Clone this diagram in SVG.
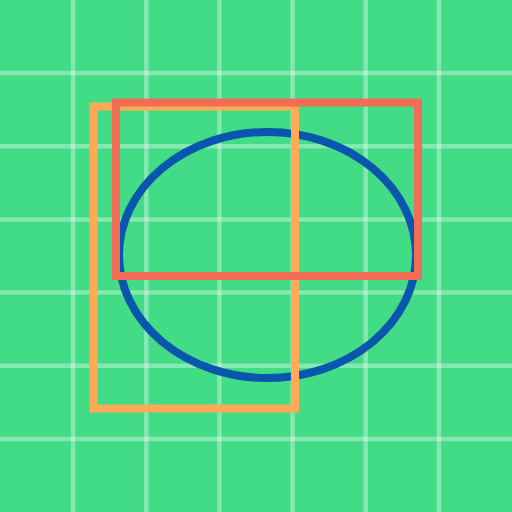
<svg xmlns="http://www.w3.org/2000/svg" width="512" height="512" viewBox="0 0 512 512">
  <style>
    .grid line { stroke: #ffffff; stroke-opacity: 0.35; stroke-width: 4.5; }
    .shape { fill: none; stroke-width: 8; }
  </style>
  <rect x="0" y="0" width="512" height="512" fill="#42DC86"/>
  <g id="grid" class="grid">
    <line x1="73.1" y1="0" x2="73.1" y2="512"/>
    <line x1="146.3" y1="0" x2="146.3" y2="512"/>
    <line x1="219.4" y1="0" x2="219.4" y2="512"/>
    <line x1="292.6" y1="0" x2="292.6" y2="512"/>
    <line x1="365.7" y1="0" x2="365.7" y2="512"/>
    <line x1="438.9" y1="0" x2="438.9" y2="512"/>
    <line x1="0" y1="73.1" x2="512" y2="73.1"/>
    <line x1="0" y1="146.3" x2="512" y2="146.3"/>
    <line x1="0" y1="219.4" x2="512" y2="219.4"/>
    <line x1="0" y1="292.6" x2="512" y2="292.6"/>
    <line x1="0" y1="365.7" x2="512" y2="365.7"/>
    <line x1="0" y1="438.9" x2="512" y2="438.9"/>
  </g>
  <g id="ellipse">
    <ellipse class="shape" cx="267.5" cy="255" rx="148.5" ry="123" stroke="#0A55AD"/>
  </g>
  <g id="orange-rect">
    <rect class="shape" x="93.5" y="106.5" width="201.5" height="302" stroke="#FFAA57"/>
  </g>
  <g id="red-rect">
    <rect class="shape" x="116" y="102.5" width="302" height="173.5" stroke="#F26D55"/>
  </g>
</svg>
